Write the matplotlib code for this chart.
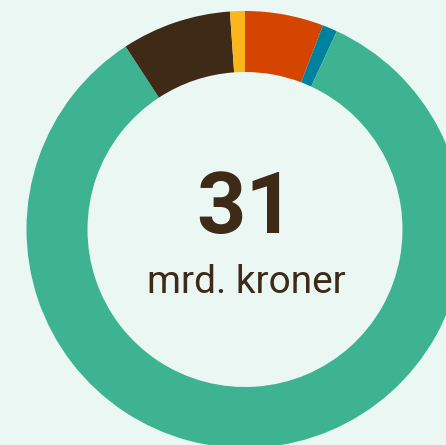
import matplotlib
matplotlib.use("Agg")
import matplotlib.pyplot as plt

# Andele af 31 mrd. kroner, med uret fra kl. 12
labels = ["Orange", "Blå", "Grøn", "Brun", "Gul"]
shares = [5.8, 1.1, 83.9, 8.1, 1.1]
colors = ["#d64500", "#00829f", "#3db391", "#3f2a18", "#fbb61b"]
total_text = "31"
unit_text = "mrd. kroner"

BG = "#eaf7f3"
TXT = "#3f2a18"

W, H = 446, 445
fig = plt.figure(figsize=(W / 100, H / 100), dpi=100, facecolor=BG)
ax = fig.add_axes([0, 0, 1, 1])
ax.set_facecolor(BG)

cx, cy = 245, H - 229.5
r_out, ring = 218.5, 61

ax.pie(shares, colors=colors, startangle=90, counterclock=False,
       radius=r_out, center=(cx, cy),
       wedgeprops=dict(width=ring, linewidth=0))

ax.text(cx + 1, H - 233, total_text, ha="center", va="baseline",
        fontsize=62, fontweight="bold", color=TXT, family="Roboto")
ax.text(cx + 1, H - 292.7, unit_text, ha="center", va="baseline",
        fontsize=28, color=TXT, family="Roboto")

ax.set_xlim(0, W)
ax.set_ylim(0, H)
ax.set_aspect("equal")
ax.axis("off")

fig.savefig("out.png", dpi=100, facecolor=BG)
